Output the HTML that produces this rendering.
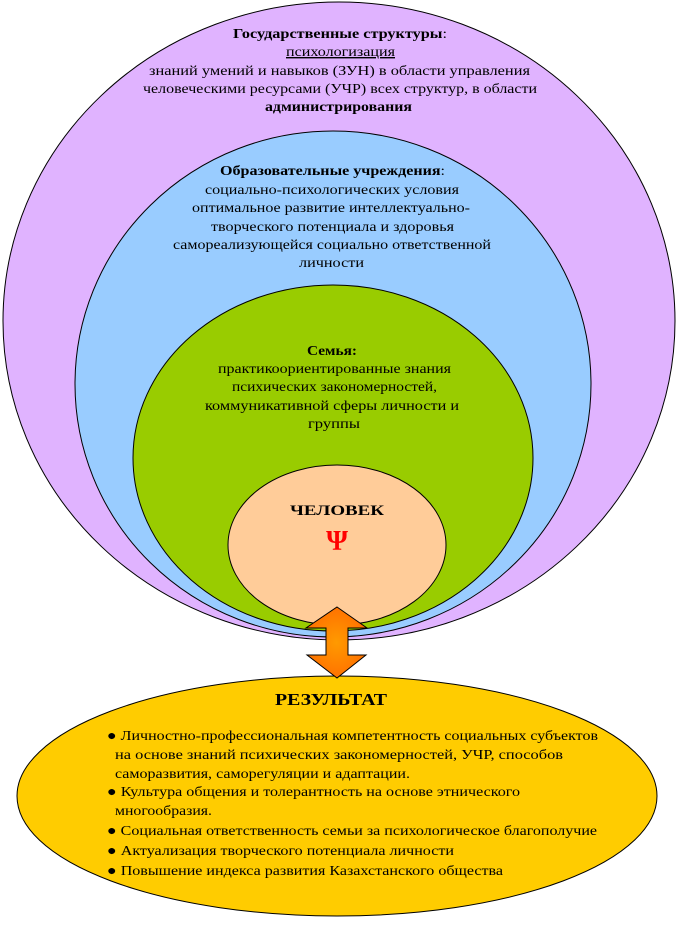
<!DOCTYPE html>
<html><head><meta charset="utf-8"><style>
html,body{margin:0;padding:0;background:#fff;}
svg{display:block;font-family:"Liberation Serif",serif;}
</style></head><body>
<svg width="679" height="938" viewBox="0 0 679 938" xmlns="http://www.w3.org/2000/svg">
<defs>
<radialGradient id="og" cx="50%" cy="50%" r="60%">
<stop offset="0" stop-color="#ff9a00"/><stop offset="1" stop-color="#ff6a00"/>
</radialGradient>
</defs>
<ellipse cx="339" cy="321" rx="336" ry="319" fill="#e0b3ff" stroke="#000" stroke-width="1"/>
<ellipse cx="333" cy="384" rx="258" ry="253" fill="#99ccff" stroke="#000" stroke-width="1"/>
<ellipse cx="333" cy="458" rx="200" ry="173" fill="#99cc00" stroke="#000" stroke-width="1"/>
<ellipse cx="337" cy="545" rx="109" ry="80" fill="#ffcc99" stroke="#000" stroke-width="1"/>
<ellipse cx="337" cy="796" rx="320" ry="120" fill="#ffcc00" stroke="#000" stroke-width="1"/>
<polygon points="337,607 367,628 348,628 348,655 366,655 337,678 307,655 326,655 326,628 306,628" fill="url(#og)" stroke="#000" stroke-width="1"/>

<g font-size="14" fill="#000" lengthAdjust="spacingAndGlyphs">
<text x="233" y="38" textLength="214" lengthAdjust="spacingAndGlyphs"><tspan font-weight="bold">Государственные структуры</tspan>:</text>
<text x="286" y="56" textLength="109" lengthAdjust="spacingAndGlyphs" text-decoration="underline">психологизация</text>
<text x="149" y="75" textLength="381" lengthAdjust="spacingAndGlyphs">знаний умений и навыков (ЗУН)  в области управления</text>
<text x="143" y="93" textLength="394" lengthAdjust="spacingAndGlyphs">человеческими ресурсами (УЧР) всех структур, в области</text>
<text x="265" y="111" textLength="147" lengthAdjust="spacingAndGlyphs" font-weight="bold">администрирования</text>

<text x="220" y="175" textLength="225" lengthAdjust="spacingAndGlyphs"><tspan font-weight="bold">Образовательные учреждения</tspan>:</text>
<text x="205" y="194" textLength="254" lengthAdjust="spacingAndGlyphs">социально-психологических условия</text>
<text x="192" y="212" textLength="278" lengthAdjust="spacingAndGlyphs">оптимальное развитие интеллектуально-</text>
<text x="211" y="231" textLength="243" lengthAdjust="spacingAndGlyphs">творческого потенциала и здоровья</text>
<text x="173" y="249" textLength="318" lengthAdjust="spacingAndGlyphs">самореализующейся социально ответственной</text>
<text x="299" y="267" textLength="65" lengthAdjust="spacingAndGlyphs">личности</text>

<text x="307" y="355" textLength="50" lengthAdjust="spacingAndGlyphs" font-weight="bold">Семья:</text>
<text x="218" y="373" textLength="233" lengthAdjust="spacingAndGlyphs">практикоориентированные знания</text>
<text x="232" y="391" textLength="205" lengthAdjust="spacingAndGlyphs">психических закономерностей,</text>
<text x="205" y="410" textLength="254" lengthAdjust="spacingAndGlyphs">коммуникативной сферы личности и</text>
<text x="308" y="428" textLength="52" lengthAdjust="spacingAndGlyphs">группы</text>

<text x="290" y="515" textLength="94" lengthAdjust="spacingAndGlyphs" font-weight="bold" font-size="15">ЧЕЛОВЕК</text>
<text x="337" y="550" text-anchor="middle" font-weight="bold" font-size="28" fill="#ff0000">Ψ</text>

<text x="275" y="705" textLength="112" lengthAdjust="spacingAndGlyphs" font-weight="bold" font-size="17">РЕЗУЛЬТАТ</text>

<text x="107" y="740" textLength="491" lengthAdjust="spacingAndGlyphs">● Личностно-профессиональная компетентность социальных субъектов</text>
<text x="115" y="759" textLength="448" lengthAdjust="spacingAndGlyphs">на основе  знаний психических закономерностей, УЧР,  способов</text>
<text x="115" y="778" textLength="295" lengthAdjust="spacingAndGlyphs">саморазвития, саморегуляции и адаптации.</text>
<text x="107" y="796" textLength="413" lengthAdjust="spacingAndGlyphs">● Культура общения и толерантность на основе этнического</text>
<text x="115" y="815" textLength="97" lengthAdjust="spacingAndGlyphs">многообразия.</text>
<text x="107" y="835" textLength="490" lengthAdjust="spacingAndGlyphs">● Социальная ответственность семьи за психологическое благополучие</text>
<text x="107" y="855" textLength="347" lengthAdjust="spacingAndGlyphs">● Актуализация творческого потенциала личности</text>
<text x="107" y="875" textLength="396" lengthAdjust="spacingAndGlyphs">● Повышение индекса развития Казахстанского общества</text>
</g>
</svg>
</body></html>
